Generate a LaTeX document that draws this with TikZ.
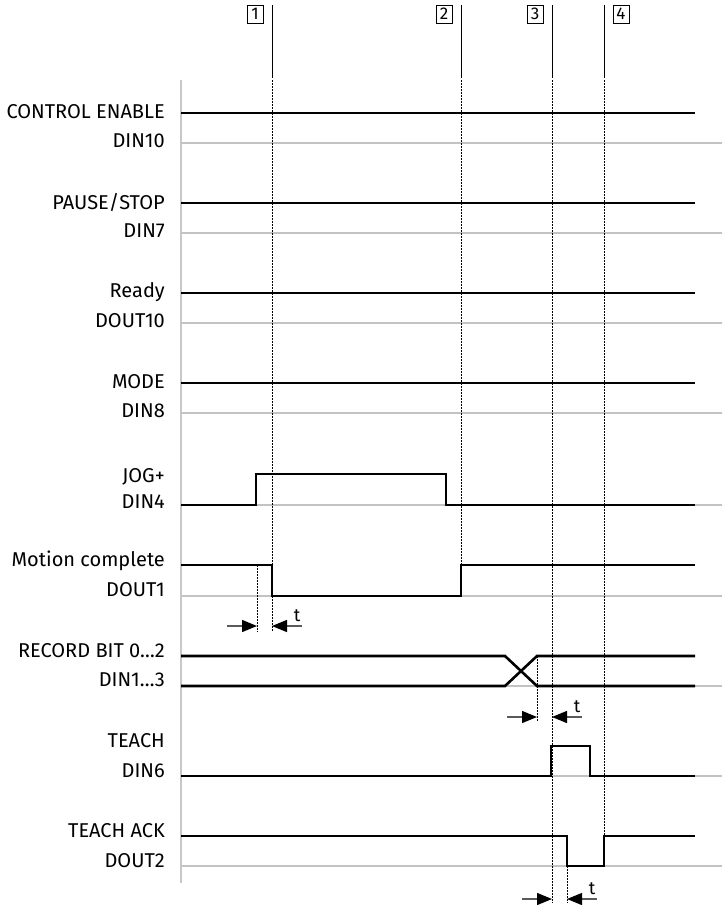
\documentclass[tikz,border=0pt]{standalone}
\usepackage{fontspec}
\setmainfont{Fira Sans}
\usetikzlibrary{arrows.meta}
\definecolor{lgray}{RGB}{195,195,195}
\definecolor{agray}{RGB}{200,200,200}
\definecolor{shaft}{RGB}{90,90,90}
\begin{document}
\begin{tikzpicture}[x=1pt,y=-1pt,
  sig/.style={line width=2.6pt, line join=miter},
  baseline/.style={line width=1.3pt, color=lgray},
  axisline/.style={line width=2.8pt, color=agray},
  markline/.style={line width=1pt},
  dots/.style={line width=1pt, dash pattern=on 1.5pt off 1.5pt},
  lbl/.style={anchor=east, font=\fontsize{20}{22}\selectfont, inner sep=0pt},
  numbox/.style={draw, line width=0.9pt, minimum width=16pt, minimum height=18pt, inner sep=0pt, font=\fontsize{17}{17}\selectfont},
  tlbl/.style={inner sep=0pt, font=\fontsize{18}{18}\selectfont},
  tarr/.style={line width=1.3pt, color=shaft, -{Triangle[length=15pt,width=12pt,color=black]}},
]
\useasboundingbox (0,0) rectangle (722,905);

% axis
\coordinate (axtop) at (181,80);
\coordinate (axbot) at (181,883);
\draw[axisline] (axtop) -- (axbot);

% gray low lines
\foreach \y/\n in {143/a,233/b,323/c,413/d,505/e,596/f,686/g,776/h,866/i}{
  \coordinate (gl\n) at (181,\y);
  \coordinate (gr\n) at (722,\y);
  \draw[baseline] (gl\n) -- (gr\n);
}

% labels
\node[lbl] (l1a) at (165,112) {CONTROL ENABLE};
\node[lbl] (l1b) at (165,141) {DIN10};
\node[lbl] (l2a) at (165,202) {PAUSE/STOP};
\node[lbl] (l2b) at (165,231) {DIN7};
\node[lbl] (l3a) at (165,292) {Ready};
\node[lbl] (l3b) at (165,321) {DOUT10};
\node[lbl] (l4a) at (165,382) {MODE};
\node[lbl] (l4b) at (165,411) {DIN8};
\node[lbl] (l5a) at (165,477) {JOG+};
\node[lbl] (l5b) at (165,502) {DIN4};
\node[lbl] (l6a) at (165,561) {Motion complete};
\node[lbl] (l6b) at (165,590) {DOUT1};
\node[lbl] (l7a) at (165,651) {RECORD BIT 0…2};
\node[lbl] (l7b) at (165,680) {DIN1…3};
\node[lbl] (l8a) at (165,741) {TEACH};
\node[lbl] (l8b) at (165,771) {DIN6};
\node[lbl] (l9a) at (165,831) {TEACH ACK};
\node[lbl] (l9b) at (165,861) {DOUT2};

% markers
\foreach \x/\bx/\n in {272/255/1,461/444/2,552/535/3,604/621/4}{
  \coordinate (mt\n) at (\x,5);
  \coordinate (mb\n) at (\x,78);
  \draw[markline] (mt\n) -- (mb\n);
  \node[numbox] (box\n) at (\bx,14) {\n};
}

% dotted guides
\draw[dots] (272,80) -- (272,632);
\draw[dots] (257,565) -- (257,632);
\draw[dots] (461,80) -- (461,565);
\draw[dots] (537,656) -- (537,722);
\draw[dots] (552,80) -- (552,903);
\draw[dots] (567,866) -- (567,903);
\draw[dots] (604,80) -- (604,836);

% signals
\foreach \y in {113,203,293,383}{\draw[sig] (181,\y) -- (695,\y);}
\draw[sig] (181,505) -- (256,505) -- (256,474) -- (446,474) -- (446,505) -- (695,505);
\draw[sig] (181,565) -- (272,565) -- (272,596) -- (461,596) -- (461,565) -- (695,565);
\draw[sig] (181,656) -- (505,656) -- (537,686) -- (695,686);
\draw[sig] (181,686) -- (505,686) -- (537,656) -- (695,656);
\draw[sig] (181,776) -- (551,776) -- (551,746) -- (590,746) -- (590,776) -- (695,776);
\draw[sig] (181,836) -- (567,836) -- (567,866) -- (604,866) -- (604,836) -- (695,836);

% t arrows
\foreach \ya/\xl/\xr/\n in {626/257/272/1,717/537/552/2,899/552/567/3}{
  \coordinate (ta\n) at ({\xl-30},\ya);
  \coordinate (tb\n) at (\xl,\ya);
  \coordinate (tc\n) at ({\xr+30},\ya);
  \coordinate (td\n) at (\xr,\ya);
  \draw[tarr] (ta\n) -- (tb\n);
  \draw[tarr] (tc\n) -- (td\n);
  \node[tlbl] (t\n) at ({\xr+25},{\ya-10}) {t};
}
\end{tikzpicture}
\end{document}
